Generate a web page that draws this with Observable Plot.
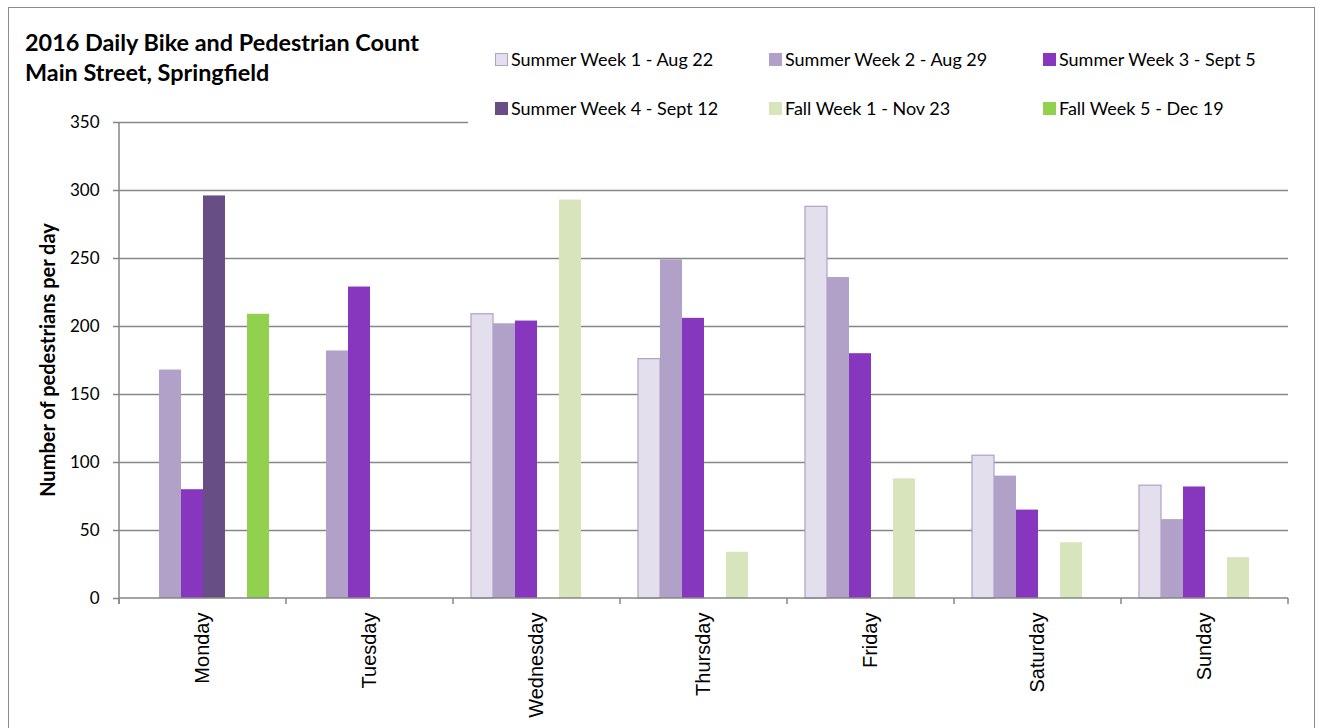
<!DOCTYPE html>
<html>
<head>
<meta charset="utf-8">
<script src="https://cdn.jsdelivr.net/npm/d3@7"></script>
<script src="https://cdn.jsdelivr.net/npm/@observablehq/plot@0.6"></script>
<style>
  body { margin: 0; background: #fff; }
  #wrap { position: relative; width: 1319px; height: 728px; overflow: hidden; background: #fff; }
  #border { position: absolute; left: 8px; top: 7px; width: 1307px; height: 760px; border: 1.5px solid #8c8c8c; box-sizing: border-box; }
  #chart { position: absolute; left: 0; top: 0; }
  #title { position: absolute; left: 25px; top: 27px; font-family: Lato, "Open Sans", sans-serif; font-weight: bold; font-size: 23.4px; line-height: 30px; color: #000; }
  #ylabel { position: absolute; left: 47px; top: 360px; transform: translate(-50%, -50%) rotate(-90deg); white-space: nowrap; font-family: Lato, "Open Sans", sans-serif; font-weight: bold; font-size: 20px; color: #000; }
  #legend { position: absolute; left: 468px; top: 36px; width: 840px; height: 89px; background: #fff; }
  .item { position: absolute; display: flex; align-items: center; font-family: Lato, "Open Sans", sans-serif; font-size: 18px; color: #000; white-space: nowrap; height: 24px; }
  .sw { width: 13px; height: 13px; margin-right: 3px; box-sizing: border-box; }
</style>
</head>
<body>
<div id="wrap">
  <div id="border"></div>
  <div id="chart"></div>
  <div id="title">2016 Daily Bike and Pedestrian Count<br>Main Street, Springfield</div>
  <div id="ylabel">Number of pedestrians per day</div>
  <div id="legend"></div>
</div>
<script>
// ---- data ----
const days = ["Monday", "Tuesday", "Wednesday", "Thursday", "Friday", "Saturday", "Sunday"];
const series = ["Summer Week 1 - Aug 22", "Summer Week 2 - Aug 29", "Summer Week 3 - Sept 5",
                "Summer Week 4 - Sept 12", "Fall Week 1 - Nov 23", "Fall Week 5 - Dec 19"];
const summerWeek1 = [null, null, 209, 176, 288, 105, 83];
const summerWeek2 = [168, 182, 202, 249, 236, 90, 58];
const summerWeek3 = [80, 229, 204, 206, 180, 65, 82];
const summerWeek4 = [296, null, null, null, null, null, null];
const fallWeek1   = [null, null, 293, 34, 88, 41, 30];
const fallWeek5   = [209, null, null, null, null, null, null];
const yTicks = [0, 50, 100, 150, 200, 250, 300, 350];

const colors  = ["#E4DFEC", "#B1A0C7", "#8637BE", "#674F86", "#D8E4BC", "#92D050"];
const strokes = ["#B1A0C7", "none", "none", "none", "none", "none"];

const valueSets = [summerWeek1, summerWeek2, summerWeek3, summerWeek4, fallWeek1, fallWeek5];
const rows = [];
valueSets.forEach((vals, si) => {
  vals.forEach((v, di) => {
    if (v != null) rows.push({day: days[di], series: series[si], value: v, idx: si});
  });
});

const gray = "#868686";

const decor = Plot.frame({
  facet: "super",
  render: (index, scales, values, dims) => {
    const g = d3.create("svg:g").attr("stroke", gray).attr("stroke-width", 1.5);
    const x0 = dims.marginLeft, x1 = dims.width - dims.marginRight;
    const yb = dims.height - dims.marginBottom, yt = dims.marginTop;
    g.append("line").attr("x1", x0).attr("x2", x0).attr("y1", yt).attr("y2", yb + 6);
    g.append("line").attr("x1", x0).attr("x2", x1).attr("y1", yb).attr("y2", yb);
    const fx = scales.fx;
    if (fx) {
      const bounds = days.map(d => fx(d)).concat([fx(days[days.length - 1]) + fx.bandwidth()]);
      bounds.forEach(b => g.append("line").attr("x1", b).attr("x2", b).attr("y1", yb).attr("y2", yb + 6));
    }
    return g.node();
  }
});

const chart = Plot.plot({
  width: 1319,
  height: 728,
  marginLeft: 118,
  marginRight: 30,
  marginTop: 122,
  marginBottom: 130,
  style: {background: "transparent", fontFamily: "Lato, sans-serif"},
  fx: {domain: days, paddingInner: 0, paddingOuter: 0},
  x: {domain: series, paddingInner: 0, paddingOuter: 0.75, axis: null},
  y: {domain: [0, 350]},
  color: {domain: series, range: colors},
  marks: [
    Plot.ruleY(yTicks.slice(1), {stroke: gray, strokeWidth: 1.4}),
    Plot.barY(rows, {
      fx: "day", x: "series", y: "value", fill: "series",
      stroke: d => strokes[d.idx], strokeWidth: 1.2
    }),
    decor,
    Plot.axisY({ticks: yTicks, tickSize: 6, tickPadding: 14, fontSize: 17, label: null, stroke: gray, strokeWidth: 1.5, fill: "#000", tickFormat: d => String(d)}),
    Plot.axisFx({anchor: "bottom", tickRotate: -90, tickSize: 0, tickPadding: 14, fontSize: 20, fontFamily: "'Liberation Sans', Arial, sans-serif", label: null, fill: "#000"})
  ]
});
document.getElementById("chart").appendChild(chart);

// legend
const legend = document.getElementById("legend");
const colX = [27, 301, 575];
const rowY = [23, 72];
series.forEach((s, i) => {
  const it = document.createElement("div");
  it.className = "item";
  it.style.left = colX[i % 3] + "px";
  it.style.top = (rowY[Math.floor(i / 3)] - 12) + "px";
  const sw = document.createElement("div");
  sw.className = "sw";
  sw.style.background = colors[i];
  if (strokes[i] !== "none") sw.style.border = "1.5px solid " + strokes[i];
  const t = document.createElement("span");
  t.textContent = s;
  it.appendChild(sw); it.appendChild(t);
  legend.appendChild(it);
});
</script>
</body>
</html>
